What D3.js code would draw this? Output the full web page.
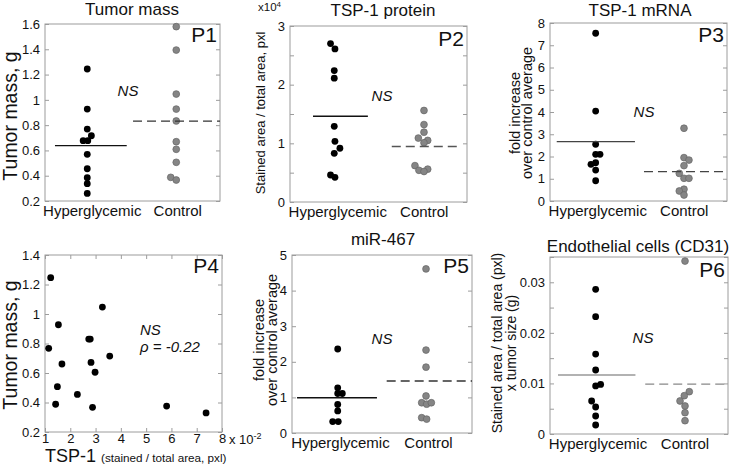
<!DOCTYPE html>
<html><head><meta charset="utf-8">
<script src="https://cdn.jsdelivr.net/npm/d3@7"></script>
<style>
body{margin:0;background:#fff}
svg{display:block}
text{font-family:"Liberation Sans",Arial,Helvetica,sans-serif;fill:#111}
</style>
</head><body>
<svg id="c" width="734" height="465"></svg>
<script>
// ---------------- DATA ----------------
const categories = ["Hyperglycemic", "Control"];

// P1 Tumor mass (g)
const p1Hyper    = [1.244, 0.927, 0.769, 0.716, 0.677, 0.677, 0.569, 0.455, 0.384, 0.337, 0.26];
const p1HyperX   = [0.983, 0.983, 0.983, 1.03, 0.936, 0.989, 0.983, 0.983, 0.983, 0.983, 0.983];
const p1Control  = [1.579, 1.394, 1.046, 0.927, 0.833, 0.669, 0.609, 0.506, 0.387, 0.366];
const p1ControlX = [2, 2, 2, 2, 2, 2, 2, 2, 1.937, 2];
const p1Ticks = [0.2, 0.4, 0.6, 0.8, 1, 1.2, 1.4, 1.6];
const p1Labels = [0.2, 0.4, 0.6, 0.8, 1, 1.2, 1.4, 1.6];

// P2 TSP-1 protein (x10^4)
const p2Hyper    = [2.70, 2.61, 2.24, 2.11, 1.29, 1.035, 0.916, 0.83, 0.46, 0.42];
const p2HyperX   = [0.958, 1.008, 1.0, 1.0, 1.0, 1.008, 1.064, 1.0, 0.958, 1.008];
const p2Control  = [1.56, 1.32, 1.19, 1.09, 1.05, 1.01, 0.62, 0.56, 0.54, 0.52];
const p2ControlX = [2.014, 2.014, 2.014, 1.95, 2.056, 2.014, 1.912, 2.056, 1.957, 2.014];
const p2Ticks = [0, 0.5, 1, 1.5, 2, 2.5, 3];
const p2Labels = [0, 1, 2, 3];

// P3 TSP-1 mRNA
const p3Hyper    = [7.54, 4.04, 2.55, 2.10, 2.10, 1.72, 1.65, 1.39, 0.91];
const p3HyperX   = [1.016, 1.016, 1.016, 1.016, 1.065, 1.016, 0.963, 1.016, 1.016];
const p3Control  = [3.27, 1.95, 1.84, 1.59, 1.24, 1.02, 1.02, 0.53, 0.45, 0.27];
const p3ControlX = [2.014, 2.014, 2.07, 2.014, 1.961, 2.014, 2.07, 2.014, 1.961, 2.014];
const p3Ticks = [0, 1, 2, 3, 4, 5, 6, 7, 8];
const p3Labels = [0, 1, 2, 3, 4, 5, 6, 7, 8];

// P4 Tumor mass vs TSP-1 (x10^-2)
const p4TSP  = [1.225, 3.27, 1.53, 2.73, 2.79, 1.146, 3.56, 1.67, 2.82, 2.98, 1.49, 2.28, 1.42, 2.88, 5.81, 7.37];
const p4Mass = [1.246, 1.047, 0.927, 0.83, 0.83, 0.767, 0.715, 0.661, 0.672, 0.605, 0.507, 0.455, 0.388, 0.367, 0.376, 0.329];
const p4XTicks = [1, 2, 3, 4, 5, 6, 7, 8];
const p4YTicks = [0.2, 0.4, 0.6, 0.8, 1, 1.2, 1.4];

// P5 miR-467
const p5Hyper    = [2.36, 1.27, 1.11, 1.11, 0.80, 0.62, 0.32, 0.32];
const p5HyperX   = [1.008, 1.008, 1.008, 1.059, 1.008, 1.008, 0.952, 1.014];
const p5Control  = [4.61, 2.33, 1.85, 1.04, 0.85, 0.81, 0.85, 0.43, 0.39];
const p5ControlX = [1.989, 1.989, 1.989, 1.989, 1.941, 1.996, 2.048, 1.941, 1.996];
const p5Ticks = [0, 1, 2, 3, 4, 5];
const p5Labels = [0, 1, 2, 3, 4, 5];

// P6 Endothelial cells (CD31)
const p6Hyper    = [0.0286, 0.0232, 0.0158, 0.01266, 0.0095, 0.0098, 0.00653, 0.00534, 0.00356, 0.00178];
const p6HyperX   = [1.013, 1.013, 1.013, 1.013, 1.013, 1.069, 0.968, 1.013, 1.013, 1.013];
const p6Control  = [0.0342, 0.00837, 0.00757, 0.00653, 0.00554, 0.00421, 0.00263];
const p6ControlX = [2.017, 2.065, 2.009, 1.961, 2.017, 2.017, 2.017];
const p6Ticks = [0, 0.005, 0.01, 0.015, 0.02, 0.025, 0.03, 0.035];
const p6Labels = [0, 0.01, 0.02, 0.03];

// ---------------- DRAW ----------------
const svg = d3.select("#c");
const FRAME = "#9c9c9c";
const R = 3.4;

function styleAxis(sel) {
  sel.select(".domain").remove();
  sel.selectAll(".tick line").attr("stroke", FRAME);
  sel.selectAll(".tick text").style("font-size", "13px").attr("fill", "#222");
}

function addYLabel(lines, bx, cy, size, gap) {
  lines.forEach((t, i) => {
    svg.append("text")
      .attr("transform", `translate(${bx + i * gap},${cy}) rotate(-90)`)
      .attr("text-anchor", "middle")
      .style("font-size", size + "px")
      .text(t);
  });
}

function catPanel(c) {
  const x = d3.scaleLinear().domain([0.5, 2.5]).range([c.x0, c.x1]);
  const y = d3.scaleLinear().domain(c.yDomain).range([c.y1, c.y0]);
  const g = svg.append("g");
  const lab = new Set(c.labels.map(String));
  g.append("g").attr("transform", `translate(${c.x0},0)`)
    .call(d3.axisLeft(y).tickValues(c.ticks).tickSize(-4).tickPadding(5)
      .tickFormat(d => lab.has(String(d)) ? String(d) : ""))
    .call(styleAxis);
  g.append("g").attr("transform", `translate(${c.x1},0)`)
    .call(d3.axisRight(y).tickValues(c.ticks).tickSize(-4).tickFormat(""))
    .call(styleAxis);
  g.append("g").attr("transform", `translate(0,${c.y1})`)
    .call(d3.axisBottom(x).tickValues([1, 2]).tickSize(0).tickPadding(4)
      .tickFormat((d, i) => categories[i]))
    .call(styleAxis)
    .call(s => s.selectAll(".tick text").style("font-size", "15px").attr("fill", "#111")
      .attr("dx", (d, i) => i === 0 ? 3 : 1));
  g.append("rect").attr("x", c.x0).attr("y", c.y0)
    .attr("width", c.x1 - c.x0).attr("height", c.y1 - c.y0)
    .attr("fill", "none").attr("stroke", FRAME).attr("stroke-width", 1);

  g.selectAll(".h").data(c.hy).join("circle")
    .attr("cx", (d, i) => x(c.hx[i])).attr("cy", d => y(d)).attr("r", R)
    .attr("fill", "#000");
  g.selectAll(".k").data(c.cy).join("circle")
    .attr("cx", (d, i) => x(c.cx[i])).attr("cy", d => y(d)).attr("r", R)
    .attr("fill", "#858585").attr("stroke", "#666").attr("stroke-width", 0.7);

  const mh = d3.mean(c.hy), mc = d3.mean(c.cy);
  g.append("line").attr("x1", x(c.solid[0])).attr("x2", x(c.solid[1]))
    .attr("y1", y(mh)).attr("y2", y(mh))
    .attr("stroke", c.solidColor).attr("stroke-width", 1.4);
  g.append("line").attr("x1", x(c.dash[0])).attr("x2", x(c.dash[1]))
    .attr("y1", y(mc)).attr("y2", y(mc))
    .attr("stroke", c.dashColor).attr("stroke-width", 1.4)
    .attr("stroke-dasharray", "9,5");

  // texts
  svg.append("text").attr("x", c.title[1]).attr("y", c.title[2])
    .attr("text-anchor", "middle").style("font-size", "17px").text(c.title[0]);
  svg.append("text").attr("x", c.x1 - 3).attr("y", c.pY)
    .attr("text-anchor", "end").style("font-size", "21px").text(c.pl);
  svg.append("text").attr("x", c.ns[0]).attr("y", c.ns[1])
    .attr("text-anchor", "middle").style("font-size", "15px")
    .style("font-style", "italic").text("NS");
  addYLabel(c.yl, c.ylx, c.yly, c.ylSize, c.ylGap);
}

catPanel({x0: 45, x1: 220, y0: 24, y1: 201, yDomain: [0.2, 1.6],
  ticks: p1Ticks, labels: p1Labels,
  hy: p1Hyper, hx: p1HyperX, cy: p1Control, cx: p1ControlX,
  solid: [0.614, 1.434], dash: [1.506, 2.5], solidColor: "#111", dashColor: "#333",
  title: ["Tumor mass", 132, 15], pl: "P1", pY: 42, ns: [128, 96],
  yl: ["Tumor mass, g"], ylx: 17, yly: 116, ylSize: 19.5, ylGap: 0});

catPanel({x0: 290, x1: 467, y0: 26, y1: 202, yDomain: [0, 3],
  ticks: p2Ticks, labels: p2Labels,
  hy: p2Hyper, hx: p2HyperX, cy: p2Control, cx: p2ControlX,
  solid: [0.76, 1.38], dash: [1.65, 2.42], solidColor: "#111", dashColor: "#555",
  title: ["TSP-1 protein", 383, 16], pl: "P2", pY: 46, ns: [382, 101],
  yl: ["Stained area / total area, pxl"], ylx: 265, yly: 113, ylSize: 13, ylGap: 0});

catPanel({x0: 550, x1: 727, y0: 23, y1: 201, yDomain: [0, 8],
  ticks: p3Ticks, labels: p3Labels,
  hy: p3Hyper, hx: p3HyperX, cy: p3Control, cx: p3ControlX,
  solid: [0.576, 1.46], dash: [1.562, 2.5], solidColor: "#444", dashColor: "#444",
  title: ["TSP-1 mRNA", 640, 16], pl: "P3", pY: 42, ns: [644, 117],
  yl: ["fold increase", "over control average"], ylx: 520, yly: 113, ylSize: 14.5, ylGap: 12});

catPanel({x0: 292, x1: 472, y0: 255, y1: 433, yDomain: [0, 5],
  ticks: p5Ticks, labels: p5Labels,
  hy: p5Hyper, hx: p5HyperX, cy: p5Control, cx: p5ControlX,
  solid: [0.556, 1.444], dash: [1.552, 2.5], solidColor: "#111", dashColor: "#333",
  title: ["miR-467", 383, 245], pl: "P5", pY: 273, ns: [382, 344],
  yl: ["fold increase", "over control average"], ylx: 264, yly: 340, ylSize: 14.5, ylGap: 12.5});

catPanel({x0: 550, x1: 728, y0: 257, y1: 434, yDomain: [0, 0.035],
  ticks: p6Ticks, labels: p6Labels,
  hy: p6Hyper, hx: p6HyperX, cy: p6Control, cx: p6ControlX,
  solid: [0.59, 1.46], dash: [1.57, 2.5], solidColor: "#999", dashColor: "#888",
  title: ["Endothelial cells (CD31)", 638, 252], pl: "P6", pY: 277, ns: [643, 343],
  yl: ["Stained area / total area (pxl)", "x tumor size (g)"], ylx: 502, yly: 343, ylSize: 14, ylGap: 14});

// x10^4 label for P2
svg.append("text").attr("x", 258).attr("y", 11).style("font-size", "11.5px")
  .text("x10").append("tspan").attr("dy", -4).style("font-size", "8px").text("4");

// ---------- P4 scatter ----------
(function () {
  const x0 = 45, x1 = 222, y0 = 255, y1 = 432;
  const x = d3.scaleLinear().domain([1, 8]).range([x0, x1]);
  const y = d3.scaleLinear().domain([0.2, 1.4]).range([y1, y0]);
  const g = svg.append("g");
  g.append("g").attr("transform", `translate(${x0},0)`)
    .call(d3.axisLeft(y).tickValues(p4YTicks).tickSize(-4).tickPadding(5).tickFormat(d => String(d)))
    .call(styleAxis);
  g.append("g").attr("transform", `translate(${x1},0)`)
    .call(d3.axisRight(y).tickValues(p4YTicks).tickSize(-4).tickFormat(""))
    .call(styleAxis);
  g.append("g").attr("transform", `translate(0,${y1})`)
    .call(d3.axisBottom(x).tickValues(p4XTicks).tickSize(-4).tickPadding(2).tickFormat(d => String(d)))
    .call(styleAxis);
  g.append("g").attr("transform", `translate(0,${y0})`)
    .call(d3.axisTop(x).tickValues(p4XTicks).tickSize(-4).tickFormat(""))
    .call(styleAxis);
  g.append("rect").attr("x", x0).attr("y", y0).attr("width", x1 - x0).attr("height", y1 - y0)
    .attr("fill", "none").attr("stroke", FRAME);
  g.selectAll(".p").data(p4TSP).join("circle")
    .attr("cx", d => x(d)).attr("cy", (d, i) => y(p4Mass[i])).attr("r", R).attr("fill", "#000");

  svg.append("text").attr("x", 219).attr("y", 273).attr("text-anchor", "end")
    .style("font-size", "21px").text("P4");
  svg.append("text").attr("x", 140).attr("y", 335).style("font-size", "15px")
    .style("font-style", "italic").text("NS");
  svg.append("text").attr("x", 140).attr("y", 352).style("font-size", "15px")
    .style("font-style", "italic").text("ρ = -0.22");
  const xt = svg.append("text").attr("x", 229).attr("y", 444).style("font-size", "13px").text("x 10");
  xt.append("tspan").attr("dy", -5).style("font-size", "9px").text("-2");
  const xl = svg.append("text").attr("x", 45).attr("y", 462).style("font-size", "18px").text("TSP-1");
  xl.append("tspan").attr("dx", 5).style("font-size", "11.7px").text("(stained / total area, pxl)");
  addYLabel(["Tumor mass, g"], 17, 345, 19.5, 0);
})();
</script>
</body></html>
